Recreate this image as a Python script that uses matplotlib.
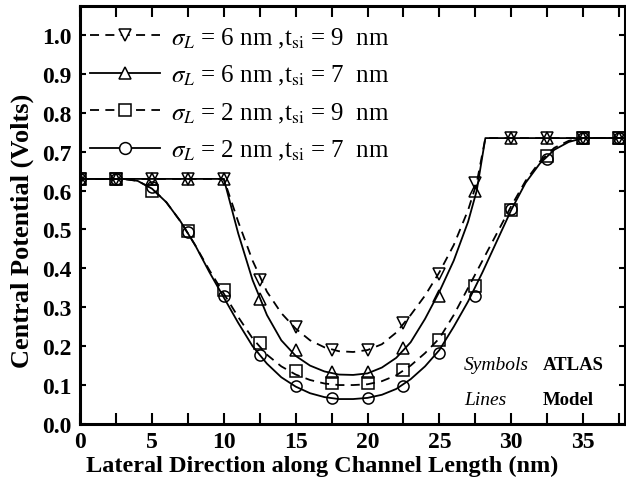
import numpy as np
import matplotlib
matplotlib.use('Agg')
import matplotlib.pyplot as plt

plt.rcParams['font.family'] = ['Liberation Serif', 'DejaVu Serif']
plt.rcParams['mathtext.fontset'] = 'stix'

# ATLAS simulation points (every 2.5 nm)
x_sim = [0, 2.5, 5, 7.5, 10, 12.5, 15, 17.5, 20, 22.5, 25, 27.5, 30, 32.5, 35, 37.5]
sim_s6_t9 = [0.63, 0.63, 0.63, 0.63, 0.63, 0.37, 0.25, 0.19, 0.19, 0.26, 0.385, 0.62, 0.735, 0.735, 0.735, 0.735]
sim_s6_t7 = [0.63, 0.63, 0.63, 0.63, 0.63, 0.32, 0.19, 0.134, 0.134, 0.196, 0.33, 0.60, 0.735, 0.735, 0.735, 0.735]
sim_s2_t9 = [0.63, 0.63, 0.60, 0.495, 0.345, 0.208, 0.136, 0.105, 0.105, 0.139, 0.216, 0.355, 0.55, 0.688, 0.735, 0.735]
sim_s2_t7 = [0.63, 0.63, 0.61, 0.494, 0.33, 0.178, 0.097, 0.066, 0.066, 0.098, 0.183, 0.33, 0.553, 0.68, 0.735, 0.735]

# analytical model curves
x_mod6 = [0, 10, 11, 12, 13, 14, 15, 16, 17, 18, 19, 20, 21, 22, 23, 24, 25, 26, 27, 27.6, 28.2, 37.9]
mod_s6_t9 = [0.63, 0.63, 0.52, 0.42, 0.34, 0.285, 0.245, 0.215, 0.197, 0.187, 0.185, 0.19, 0.205, 0.235, 0.28, 0.33,
             0.39, 0.46, 0.55, 0.62, 0.735, 0.735]
mod_s6_t7 = [0.63, 0.63, 0.49, 0.37, 0.28, 0.215, 0.175, 0.15, 0.135, 0.127, 0.126, 0.13, 0.145, 0.17, 0.21, 0.27,
             0.34, 0.42, 0.52, 0.60, 0.735, 0.735]
x_mod2 = [0, 3, 4, 5, 6, 7, 8, 9, 10, 11, 12, 13, 14, 15, 16, 17, 18, 19, 20, 21, 22, 23, 24, 25, 26, 27, 28, 29,
          30, 31, 32, 33, 34, 35, 37.9]
mod_s2_t9 = [0.63, 0.63, 0.625, 0.605, 0.57, 0.52, 0.46, 0.395, 0.335, 0.275, 0.22, 0.178, 0.148, 0.127, 0.113,
             0.104, 0.1, 0.1, 0.102, 0.11, 0.125, 0.15, 0.182, 0.22, 0.28, 0.35, 0.42, 0.49, 0.56, 0.625, 0.675,
             0.71, 0.728, 0.735, 0.735]
mod_s2_t7 = [0.63, 0.63, 0.625, 0.605, 0.57, 0.52, 0.46, 0.39, 0.325, 0.26, 0.2, 0.155, 0.12, 0.096, 0.079, 0.069,
             0.064, 0.064, 0.067, 0.075, 0.09, 0.115, 0.148, 0.19, 0.25, 0.315, 0.39, 0.47, 0.55, 0.62, 0.67,
             0.705, 0.725, 0.735, 0.735]

labels = [r'$\sigma_L$ = 6 nm ,t$_{\mathrm{si}}$ = 9  nm',
          r'$\sigma_L$ = 6 nm ,t$_{\mathrm{si}}$ = 7  nm',
          r'$\sigma_L$ = 2 nm ,t$_{\mathrm{si}}$ = 9  nm',
          r'$\sigma_L$ = 2 nm ,t$_{\mathrm{si}}$ = 7  nm']

fig = plt.figure(figsize=(6.26, 4.89), dpi=100)
ax = fig.add_axes([0.128, 0.131, 0.870, 0.855])

dash = (0, (5, 3.5))
series = [
    (x_mod6, mod_s6_t9, sim_s6_t9, 'v', dash),
    (x_mod6, mod_s6_t7, sim_s6_t7, '^', '-'),
    (x_mod2, mod_s2_t9, sim_s2_t9, 's', dash),
    (x_mod2, mod_s2_t7, sim_s2_t7, 'o', '-'),
]
handles = []
for xm, ym, ys, mk, ls in series:
    ax.plot(xm, ym, color='black', lw=1.3, linestyle=ls)
    ax.plot(x_sim, ys, linestyle='none', marker=mk, ms=8, mfc='none', mec='black', mew=1.1)
    h, = ax.plot([], [], color='black', lw=1.3, linestyle=ls, marker=mk, ms=8.5, mfc='white', mec='black', mew=1.1)
    handles.append(h)

ax.legend(handles, labels, loc='upper left', bbox_to_anchor=(-0.005, 0.983), frameon=False,
          prop={'size': 18}, handlelength=2.8, handletextpad=0.45, labelspacing=0.54,
          borderaxespad=0.2, borderpad=0.3)

ax.text(26.7, 0.152, 'Symbols', style='italic', fontsize=14, va='center')
ax.text(32.2, 0.152, 'ATLAS', fontweight='bold', fontsize=13.5, va='center')
ax.text(26.7, 0.064, 'Lines', style='italic', fontsize=14, va='center')
ax.text(32.2, 0.064, 'Model', fontweight='bold', fontsize=13.5, va='center')

ax.set_xlim(0, 37.9)
ax.set_ylim(0, 1.075)
ax.set_xticks(np.arange(0, 37.6, 5))
ax.set_xticks(np.arange(0, 37.6, 2.5), minor=True)
ax.set_yticks(np.arange(0, 1.01, 0.1))
ax.set_yticklabels([f'{v:.1f}' for v in np.arange(0, 1.01, 0.1)])
ax.tick_params(axis='both', which='both', direction='in', top=True, right=True,
               width=1.5, labelsize=17)
ax.tick_params(axis='x', which='both', length=8, pad=5)
ax.tick_params(axis='y', which='major', length=4, pad=6)
for lab in ax.get_xticklabels() + ax.get_yticklabels():
    lab.set_fontweight('bold')
for s in ax.spines.values():
    s.set_linewidth(2.2)

ax.set_xlabel('Lateral Direction along Channel Length (nm)', fontsize=17.5, fontweight='bold')
ax.set_ylabel('Central Potential (Volts)', fontsize=19, fontweight='bold')
ax.xaxis.set_label_coords(0.444, -0.074)
ax.yaxis.set_label_coords(-0.084, 0.464)

fig.savefig('out.png', dpi=100)
